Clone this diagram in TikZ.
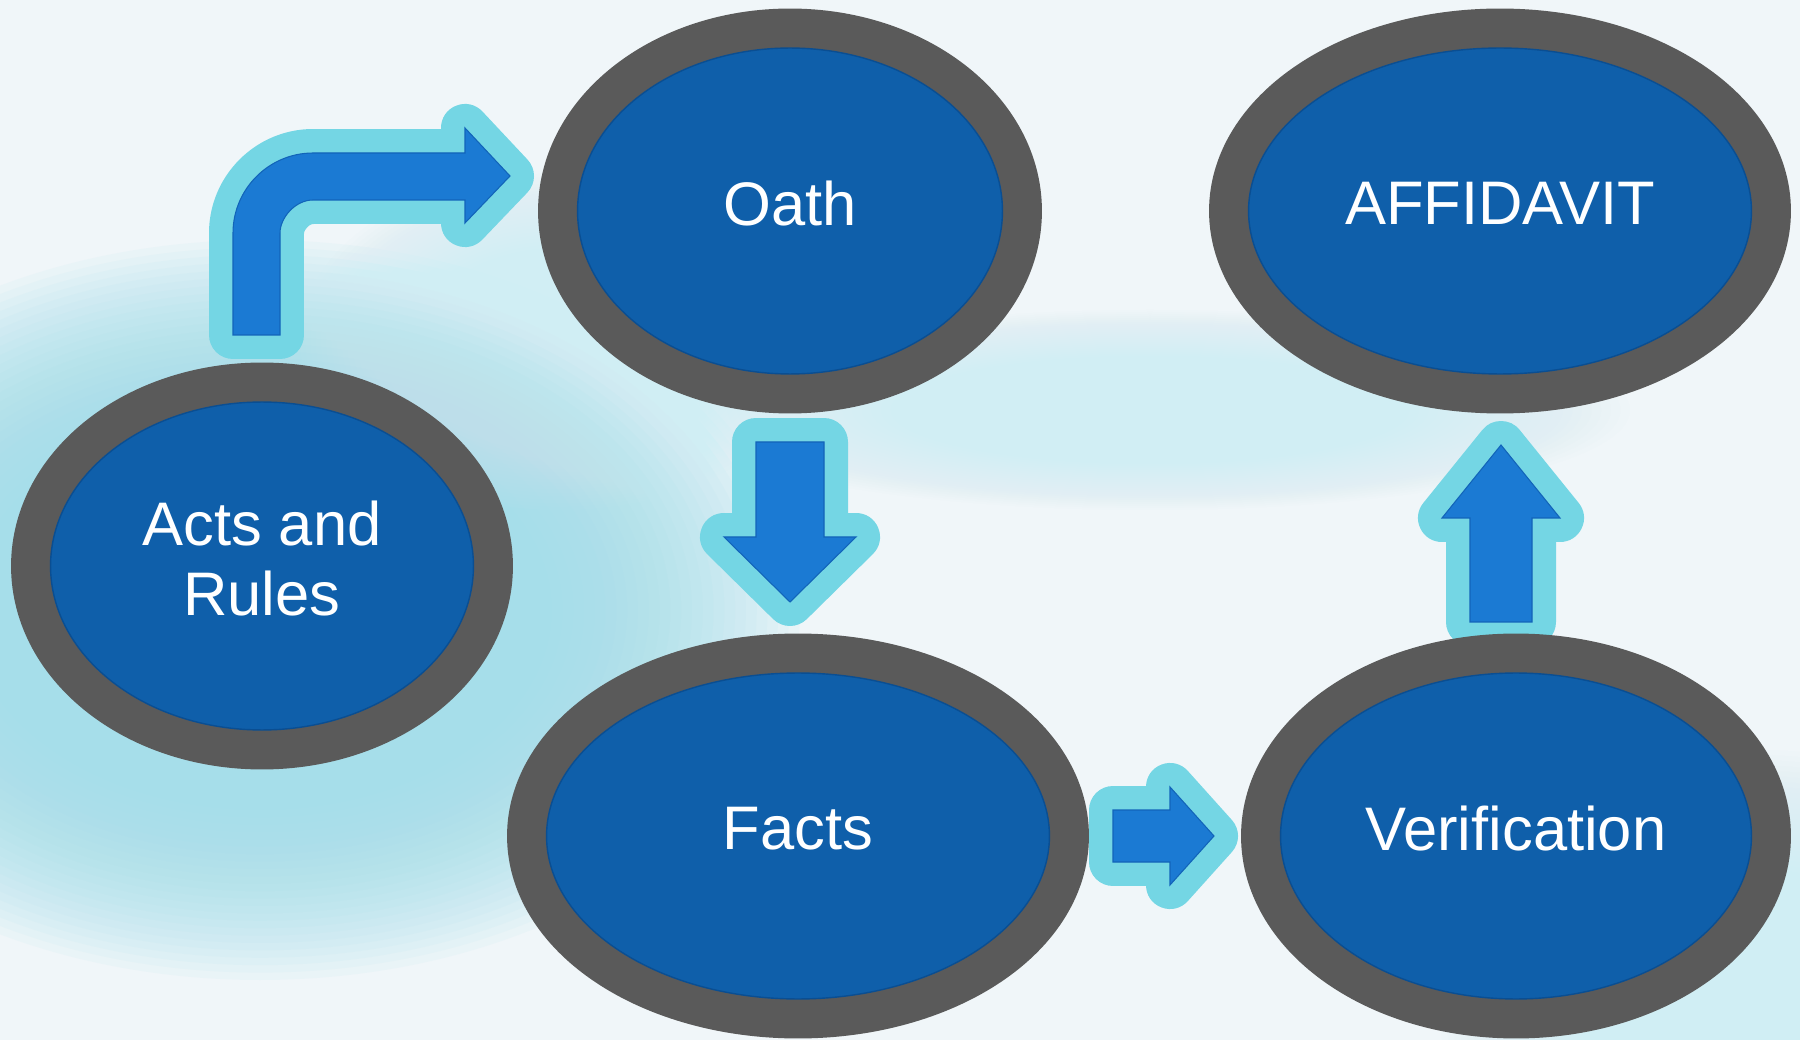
\documentclass[tikz,border=0pt]{standalone}
\usepackage{fontspec}
\setmainfont{Liberation Sans}
\usetikzlibrary{shapes.geometric}
\definecolor{cBack}{RGB}{240,246,249}
\definecolor{cGlow}{RGB}{158,222,234}
\definecolor{cHaze}{RGB}{208,238,244}
\definecolor{cRing}{RGB}{90,90,90}
\definecolor{cStage}{RGB}{15,95,170}
\definecolor{cRim}{RGB}{10,78,146}
\definecolor{cHalo}{RGB}{116,214,228}
\definecolor{cArrow}{RGB}{27,122,211}
\definecolor{cArrowEdge}{RGB}{18,100,185}
\pgfdeclarelayer{backdrop}
\pgfdeclarelayer{arrows}
\pgfsetlayers{backdrop,arrows,main}
% soft haze: stacked translucent ellipses
% #1 = colour, #2 = centre, #3/#4 = radii, #5 = opacity per layer
\newcommand{\hazeblob}[5]{%
	\foreach \k in {0,...,23} {
		\fill[#1, opacity=#5] #2 ellipse ({#3*(1-0.02*\k)} and {#4*(1-0.02*\k)});
	}%
}
\tikzset{
	stage/.style={ellipse, inner sep=0pt, outer sep=0pt, fill=cStage, draw=cRim, line width=0.8pt,
		preaction={draw=cRing, line width=1.58cm}, text=white, align=center, text depth=0.3cm,
		font=\fontsize{35}{40}\selectfont},
	arrowbody/.style={fill=cArrow, draw=cArrowEdge, line width=0.6pt,
		preaction={draw=cHalo, line width=0.96cm, line join=round}},
}

\begin{document}
\begin{tikzpicture}[x=0.02cm, y=-0.02cm]
	\useasboundingbox (0,0) rectangle (1800,1040);

	% the five stages
	\node[stage, minimum width=8.46cm, minimum height=6.56cm] (acts) at (262,566) {Acts and\\Rules};
	\node[stage, minimum width=8.5cm, minimum height=6.52cm] (oath) at (790,211) {Oath};
	\node[stage, minimum width=10.06cm, minimum height=6.52cm] (affidavit) at (1500,211) {AFFIDAVIT};
	\node[stage, minimum width=10.06cm, minimum height=6.52cm] (facts) at (798,836) {Facts};
	\node[stage, minimum width=9.42cm, minimum height=6.52cm] (verif) at (1516,836) {Verification};

	% block arrows, placed from the stage they leave
	\begin{pgfonlayer}{arrows}
		\begin{scope}[shift={(acts.center)}]
			\draw[arrowbody] (-29,-231) -- (-29,-333) .. controls (-29,-377) and (7,-413) .. (51,-413)
				-- (203,-413) -- (203,-438) -- (248,-390) -- (203,-343) -- (203,-366) -- (51,-366)
				.. controls (33,-366) and (18,-348) .. (18,-333) -- (18,-231) -- cycle;
		\end{scope}
		\begin{scope}[shift={(oath.center)}]
			\draw[arrowbody] (-34,231) -- (34,231) -- (34,326) -- (66,326) -- (0,391)
				-- (-66,326) -- (-34,326) -- cycle;
		\end{scope}
		\begin{scope}[shift={(facts.center)}]
			\draw[arrowbody] (315,-26) -- (372,-26) -- (372,-49) -- (416,0) -- (372,49)
				-- (372,26) -- (315,26) -- cycle;
		\end{scope}
		\begin{scope}[shift={(affidavit.center)}]
			\draw[arrowbody] (-30,411) -- (-30,307) -- (-58,307) -- (1,234) -- (60,307)
				-- (32,307) -- (32,411) -- cycle;
		\end{scope}
	\end{pgfonlayer}

	% pale backdrop with cyan haze
	\begin{pgfonlayer}{backdrop}
		\fill[cBack] (0,0) rectangle (1800,1040);
		\clip (0,0) rectangle (1800,1040);
		\hazeblob{cGlow}{(260,610)}{540}{370}{.075}
		\hazeblob{cHaze}{(560,340)}{260}{170}{.05}
		\hazeblob{cHaze}{(1150,410)}{480}{100}{.05}
		\hazeblob{cHaze}{(1760,1010)}{320}{260}{.06}
	\end{pgfonlayer}
\end{tikzpicture}
\end{document}
